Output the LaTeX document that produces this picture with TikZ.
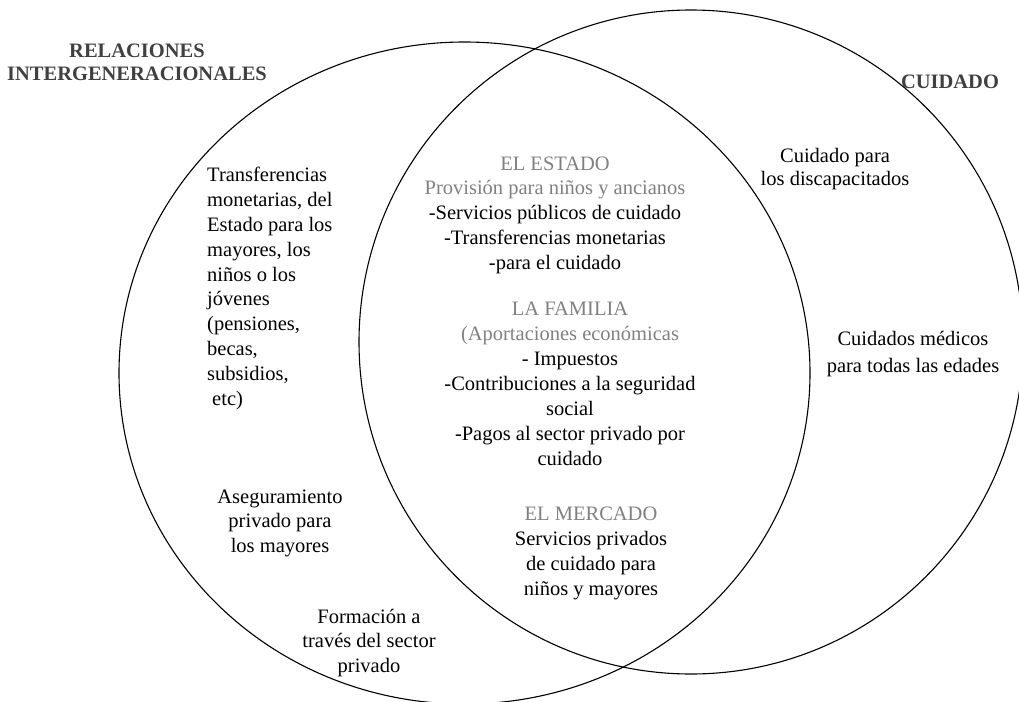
\documentclass[tikz,border=0pt]{standalone}
\usepackage{fontspec}
\setmainfont{Liberation Serif}
\definecolor{titlegray}{HTML}{404040}
\definecolor{labgray}{HTML}{808080}
\tikzset{
  ring/.style={draw=black, line width=1.1pt},
  txt/.style={inner sep=0pt, anchor=base, align=center, text=black},
  title/.style={inner sep=0pt, anchor=base, align=center, text=titlegray, font=\bfseries\fontsize{20.5}{24}\selectfont},
}
\begin{document}
\begin{tikzpicture}[x=1pt,y=-1pt]
\useasboundingbox (0,0) rectangle (1019,701);
\path[ring] (464.5,373) ellipse [x radius=345.5, y radius=331];
\path[ring] (691,342) circle [radius=332];

% anchor base = baseline of the last line
\node[title] (t1) at (137,81) {RELACIONES\\INTERGENERACIONALES};
\node[title] (t2) at (950,88) {CUIDADO};

\node[txt, anchor=base west, align=left, font=\fontsize{20.5}{24.8}\selectfont] (transf) at (207,405)
  {Transferencias\\monetarias, del\\Estado para los\\mayores, los\\niños o los\\jóvenes\\(pensiones,\\becas,\\subsidios,\\\hspace{5pt}etc)};

\node[txt, font=\fontsize{20.5}{24.5}\selectfont] (aseg) at (280,552)
  {Aseguramiento\\privado para\\los mayores};

\node[txt, font=\fontsize{20.5}{24.5}\selectfont] (form) at (369,672)
  {Formación a\\través del sector\\privado};

\node[txt, font=\fontsize{20.5}{24.75}\selectfont] (estado) at (555,269)
  {\textcolor{labgray}{EL ESTADO}\\\textcolor{labgray}{Provisión para niños y ancianos}\\-Servicios públicos de cuidado\\-Transferencias monetarias\\-para el cuidado};

\node[txt, font=\fontsize{20.5}{25}\selectfont] (familia) at (570,465)
  {\textcolor{labgray}{LA FAMILIA}\\\textcolor{labgray}{(Aportaciones económicas}\\- Impuestos\\-Contribuciones a la seguridad\\social\\-Pagos al sector privado por\\cuidado};

\node[txt, font=\fontsize{20.5}{25}\selectfont] (mercado) at (591,595)
  {\textcolor{labgray}{EL MERCADO}\\Servicios privados\\de cuidado para\\niños y mayores};

\node[txt, font=\fontsize{20.5}{23}\selectfont] (disc) at (835,185)
  {Cuidado para\\los discapacitados};

\node[txt, font=\fontsize{20.5}{27}\selectfont] (medicos) at (913,372)
  {Cuidados médicos\\para todas las edades};
\end{tikzpicture}
\end{document}
